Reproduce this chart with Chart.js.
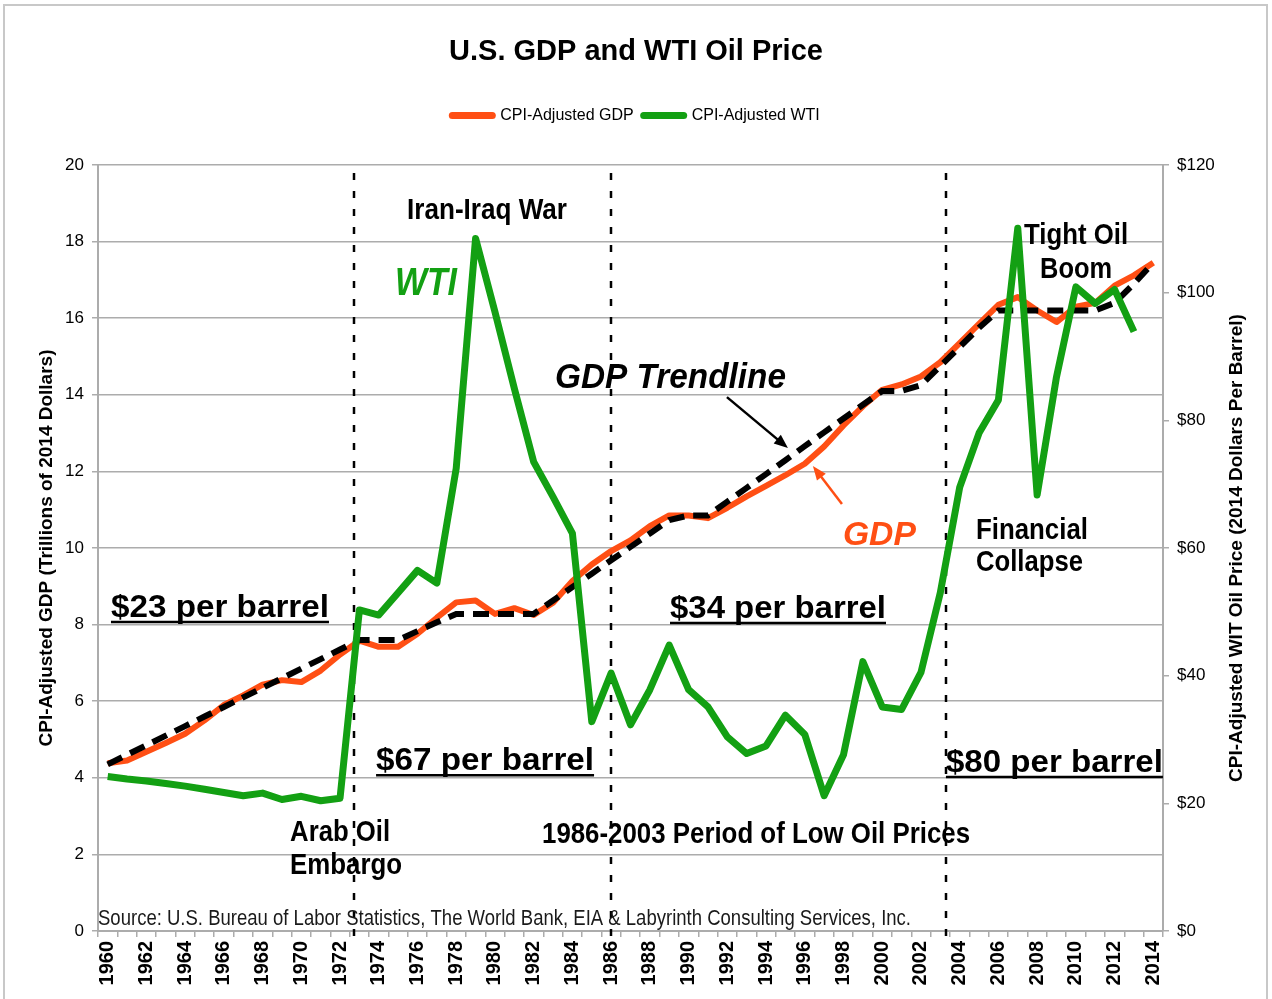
<!DOCTYPE html>
<html>
<head>
<meta charset="utf-8">
<title>U.S. GDP and WTI Oil Price</title>
<script src="https://cdn.jsdelivr.net/npm/chart.js"></script>
<style>
  html, body { margin: 0; padding: 0; background: #fff; }
  #wrap { position: relative; width: 1272px; height: 999px; overflow: hidden; }
  #frame { position: absolute; left: 3px; top: 4px; width: 1265px; height: 1010px; border: 2px solid #c8c8c8; box-sizing: border-box; }
  #chartBox { position: absolute; left: 0; top: 0; width: 1272px; height: 999px; }
</style>
</head>
<body>
<div id="wrap">
  <div id="frame"></div>
  <div id="chartBox"><canvas id="oilChart"></canvas></div>
</div>
<script>
// ---- data ----
const years = [
  '1960','1961','1962','1963','1964','1965','1966','1967','1968','1969',
  '1970','1971','1972','1973','1974','1975','1976','1977','1978','1979',
  '1980','1981','1982','1983','1984','1985','1986','1987','1988','1989',
  '1990','1991','1992','1993','1994','1995','1996','1997','1998','1999',
  '2000','2001','2002','2003','2004','2005','2006','2007','2008','2009',
  '2010','2011','2012','2013','2014'
];

// CPI-adjusted GDP, trillions of 2014 dollars (left axis)
const gdpTrillions = [
  4.38, 4.45, 4.68, 4.91, 5.15, 5.50, 5.90, 6.15, 6.43, 6.55,
  6.50, 6.80, 7.22, 7.58, 7.42, 7.42, 7.76, 8.18, 8.58, 8.63,
  8.28, 8.43, 8.25, 8.57, 9.14, 9.57, 9.92, 10.20, 10.57, 10.85,
  10.85, 10.78, 11.05, 11.35, 11.62, 11.90, 12.20, 12.65, 13.20, 13.70,
  14.13, 14.27, 14.48, 14.85, 15.35, 15.85, 16.35, 16.55, 16.20, 15.90,
  16.30, 16.40, 16.85, 17.12, 17.45
];

// GDP trendline (dashed black, left axis)
const gdpTrendline = [
  4.35, 4.60, 4.85, 5.10, 5.35, 5.60, 5.85, 6.10, 6.35, 6.60,
  6.85, 7.10, 7.35, 7.60, 7.60, 7.60, 7.83, 8.06, 8.28, 8.28,
  8.28, 8.28, 8.28, 8.63, 8.98, 9.33, 9.68, 10.03, 10.38, 10.73,
  10.85, 10.85, 11.21, 11.57, 11.93, 12.29, 12.66, 13.02, 13.38, 13.74,
  14.10, 14.10, 14.25, 14.75, 15.25, 15.75, 16.20, 16.20, 16.20, 16.20,
  16.20, 16.20, 16.40, 16.90, 17.45
];

// CPI-adjusted WTI, 2014 dollars per barrel (right axis), no 2014 value
const wtiPerBarrel = [
  24.2, 23.8, 23.5, 23.1, 22.7, 22.2, 21.7, 21.2, 21.6, 20.6,
  21.1, 20.4, 20.8, 50.3, 49.5, 53.0, 56.5, 54.5, 72.5, 108.5,
  97.0, 85.0, 73.5, 68.0, 62.3, 32.8, 40.4, 32.3, 37.8, 44.8,
  37.8, 35.1, 30.4, 27.8, 29.0, 33.8, 30.8, 21.2, 27.6, 42.2,
  35.1, 34.7, 40.5, 53.0, 69.5, 78.0, 83.2, 110.1, 68.3, 86.8,
  100.9, 98.3, 100.5, 93.9, null
];

const gdpAxis = { min: 0, max: 20, step: 2 };
const oilAxis = { min: 0, max: 120, step: 20 };

// ---- look ----
const ORANGE = '#ff4f14';
const GREEN = '#13a013';
const GRID = '#acacac';
const SANS = "'Liberation Sans', Arial, sans-serif";

// title centre at y=52, legend row centre at y=116, plot top at y=165
const titleSize = 29;
const titleLH = titleSize * 1.2;
const titleTop = 52 - titleLH / 2;
const titleBottom = 97.5 - titleTop - titleLH;
const legendSize = 16;
const legendHeight = legendSize + 10 + 10;
const plotGap = 165 - 97.5 - legendHeight;

// text notes, anchored in data units (i = year index, v = GDP axis value)
const notes = [
  { text: 'Iran-Iraq War', i: 19.59, v: 18.59, w: 160, align: 'center', font: `bold 30px ${SANS}` },
  { text: 'WTI', i: 16.44, v: 16.60, w: 62, align: 'center', font: `italic bold 39px ${SANS}`, color: GREEN },
  { text: 'GDP Trendline', i: 23.10, v: 14.18, w: 231, align: 'left', font: `italic bold 35px ${SANS}` },
  { text: 'GDP', i: 37.97, v: 10.08, w: 73, align: 'left', font: `italic bold 33px ${SANS}`, color: ORANGE },
  { text: 'Tight Oil', i: 50.01, v: 17.94, w: 104, align: 'center', font: `bold 30px ${SANS}` },
  { text: 'Boom', i: 50.01, v: 17.05, w: 72, align: 'center', font: `bold 30px ${SANS}` },
  { text: 'Financial', i: 44.84, v: 10.23, w: 112, align: 'left', font: `bold 30px ${SANS}` },
  { text: 'Collapse', i: 44.84, v: 9.40, w: 107, align: 'left', font: `bold 30px ${SANS}` },
  { text: '$23 per barrel', i: 0.17, v: 8.20, w: 218, align: 'left', font: `bold 31px ${SANS}`, underline: true },
  { text: '$34 per barrel', i: 29.04, v: 8.17, w: 216, align: 'left', font: `bold 31px ${SANS}`, underline: true },
  { text: '$67 per barrel', i: 13.86, v: 4.20, w: 218, align: 'left', font: `bold 31px ${SANS}`, underline: true },
  { text: '$80 per barrel', i: 43.29, v: 4.15, w: 217, align: 'left', font: `bold 31px ${SANS}`, underline: true },
  { text: 'Arab Oil', i: 9.42, v: 2.35, w: 100, align: 'left', font: `bold 30px ${SANS}` },
  { text: 'Embargo', i: 9.42, v: 1.49, w: 112, align: 'left', font: `bold 30px ${SANS}` },
  { text: '1986-2003 Period of Low Oil Prices', i: 22.43, v: 2.30, w: 428, align: 'left', font: `bold 30px ${SANS}` },
  { text: 'Source: U.S. Bureau of Labor Statistics, The World Bank, EIA & Labyrinth Consulting Services, Inc.',
    i: -0.5, v: 0.16, w: 813, align: 'left', font: `22px ${SANS}`, color: '#1a1a1a' }
];

// draw text squeezed to a given width (the original chart is horizontally compressed)
function fitText(ctx, note, px, py) {
  ctx.save();
  ctx.font = note.font;
  ctx.fillStyle = note.color || '#000';
  ctx.textBaseline = 'alphabetic';
  ctx.textAlign = note.align;
  const s = note.w / ctx.measureText(note.text).width;
  ctx.translate(px, py);
  ctx.scale(s, 1);
  ctx.fillText(note.text, 0, 0);
  ctx.restore();
  if (note.underline) {
    ctx.save();
    ctx.strokeStyle = note.color || '#000';
    ctx.lineWidth = 2.5;
    ctx.beginPath();
    ctx.moveTo(px, py + 5);
    ctx.lineTo(px + note.w, py + 5);
    ctx.stroke();
    ctx.restore();
  }
}

function arrow(ctx, x0, y0, x1, y1, color) {
  const ang = Math.atan2(y1 - y0, x1 - x0);
  const head = 15;
  ctx.save();
  ctx.strokeStyle = color;
  ctx.fillStyle = color;
  ctx.lineWidth = 2.5;
  ctx.beginPath();
  ctx.moveTo(x0, y0);
  ctx.lineTo(x1 - Math.cos(ang) * head * 0.8, y1 - Math.sin(ang) * head * 0.8);
  ctx.stroke();
  ctx.beginPath();
  ctx.moveTo(x1, y1);
  ctx.lineTo(x1 - head * Math.cos(ang - 0.38), y1 - head * Math.sin(ang - 0.38));
  ctx.lineTo(x1 - head * Math.cos(ang + 0.38), y1 - head * Math.sin(ang + 0.38));
  ctx.closePath();
  ctx.fill();
  ctx.restore();
}

const overlayPlugin = {
  id: 'overlay',
  beforeDatasetsDraw(chart) {
    // period separators: 1973, 1986, 2003
    const {ctx, chartArea, scales: {x}} = chart;
    ctx.save();
    ctx.strokeStyle = '#000';
    ctx.lineWidth = 2.5;
    ctx.setLineDash([7, 11]);
    [12.7, 26, 43.3].forEach(i => {
      const px = Math.round(x.getPixelForValue(i));
      ctx.beginPath();
      ctx.moveTo(px, chartArea.top + 8);
      ctx.lineTo(px, chartArea.bottom + 6);
      ctx.stroke();
    });
    ctx.restore();
  },
  afterDatasetsDraw(chart) {
    const {ctx, scales: {x, y}} = chart;
    notes.forEach(n => fitText(ctx, n, x.getPixelForValue(n.i), y.getPixelForValue(n.v)));
    arrow(ctx, x.getPixelForValue(31.98), y.getPixelForValue(13.94),
               x.getPixelForValue(35.13), y.getPixelForValue(12.61), '#000');
    arrow(ctx, x.getPixelForValue(37.92), y.getPixelForValue(11.15),
               x.getPixelForValue(36.42), y.getPixelForValue(12.14), ORANGE);
  },
  afterDraw(chart) {
    // right axis title reads bottom-to-top, like the left one
    const {ctx, chartArea, scales: {y1}} = chart;
    ctx.save();
    ctx.translate(y1.right - 35, (chartArea.top + chartArea.bottom) / 2);
    ctx.rotate(-Math.PI / 2);
    ctx.font = `bold 19px ${SANS}`;
    ctx.fillStyle = '#000';
    ctx.textAlign = 'center';
    ctx.textBaseline = 'middle';
    ctx.fillText('CPI-Adjusted WIT Oil Price (2014 Dollars Per Barrel)', 0, 0);
    ctx.restore();
  }
};

new Chart(document.getElementById('oilChart').getContext('2d'), {
  type: 'line',
  data: {
    labels: years,
    datasets: [
      {
        label: 'CPI-Adjusted GDP',
        data: gdpTrillions,
        yAxisID: 'y',
        borderColor: ORANGE,
        backgroundColor: ORANGE,
        borderWidth: 6,
        pointRadius: 0,
        pointStyle: 'line',
        pointBorderWidth: 7,
        borderJoinStyle: 'round',
        tension: 0,
        order: 2
      },
      {
        label: 'CPI-Adjusted WTI',
        data: wtiPerBarrel,
        yAxisID: 'y1',
        borderColor: GREEN,
        backgroundColor: GREEN,
        borderWidth: 7,
        pointRadius: 0,
        pointStyle: 'line',
        pointBorderWidth: 7,
        borderJoinStyle: 'round',
        tension: 0,
        order: 0
      },
      {
        label: 'GDP Trendline',
        data: gdpTrendline,
        yAxisID: 'y',
        borderColor: '#000',
        backgroundColor: '#000',
        borderWidth: 6,
        borderDash: [16, 9],
        pointRadius: 0,
        tension: 0,
        order: 1
      }
    ]
  },
  options: {
    responsive: true,
    maintainAspectRatio: false,
    animation: false,
    layout: { padding: 0 },
    plugins: {
      title: {
        display: true,
        text: 'U.S. GDP and WTI Oil Price',
        color: '#000',
        font: { family: SANS, size: titleSize, weight: 'bold', lineHeight: 1.2 },
        padding: { top: titleTop, bottom: titleBottom }
      },
      legend: {
        position: 'top',
        labels: {
          usePointStyle: true,
          pointStyleWidth: 40,
          boxHeight: 7,
          padding: 10,
          color: '#000',
          font: { family: SANS, size: legendSize },
          filter: item => item.datasetIndex !== 2,
          sort: (a, b) => a.datasetIndex - b.datasetIndex,
          generateLabels: chart => Chart.defaults.plugins.legend.labels.generateLabels(chart)
            .map(l => Object.assign(l, { lineCap: 'round' }))
        }
      },
      // empty box that sits between the legend and the plot (weight below legend's 1000)
      subtitle: {
        display: true,
        text: '',
        weight: 500,
        font: { size: 1, lineHeight: 1 },
        padding: { top: 0, bottom: plotGap - 1 }
      },
      tooltip: { enabled: false }
    },
    scales: {
      x: {
        offset: true,
        grid: { offset: true, drawOnChartArea: false, color: GRID, lineWidth: 1.5, tickLength: 6 },
        border: { display: true, color: GRID, width: 2 },
        ticks: {
          autoSkip: false,
          minRotation: 90,
          maxRotation: 90,
          padding: 4,
          color: '#000',
          font: { family: SANS, size: 20, weight: 'bold' },
          callback: (v, i) => (i % 2 === 0 ? years[i] : '')
        },
        afterFit: s => { s.height = 68; }
      },
      y: {
        position: 'left',
        min: gdpAxis.min,
        max: gdpAxis.max,
        ticks: { stepSize: gdpAxis.step, padding: 8, color: '#000', font: { family: SANS, size: 17 } },
        grid: { color: GRID, lineWidth: 1.5, tickLength: 6 },
        border: { display: true, color: GRID, width: 2 },
        title: {
          display: true,
          text: 'CPI-Adjusted GDP (Trillions of 2014 Dollars)',
          color: '#000',
          font: { family: SANS, size: 19, weight: 'bold', lineHeight: 1.2 },
          padding: { top: 35.6, bottom: 0 }
        },
        afterFit: s => { s.width = 98; }
      },
      y1: {
        position: 'right',
        min: oilAxis.min,
        max: oilAxis.max,
        ticks: {
          stepSize: oilAxis.step,
          padding: 8,
          color: '#000',
          font: { family: SANS, size: 17 },
          callback: v => '$' + v
        },
        grid: { drawOnChartArea: false, color: GRID, lineWidth: 1.5, tickLength: 6 },
        border: { display: true, color: GRID, width: 2 },
        afterFit: s => { s.width = 109; }
      }
    }
  },
  plugins: [overlayPlugin]
});
</script>
</body>
</html>
